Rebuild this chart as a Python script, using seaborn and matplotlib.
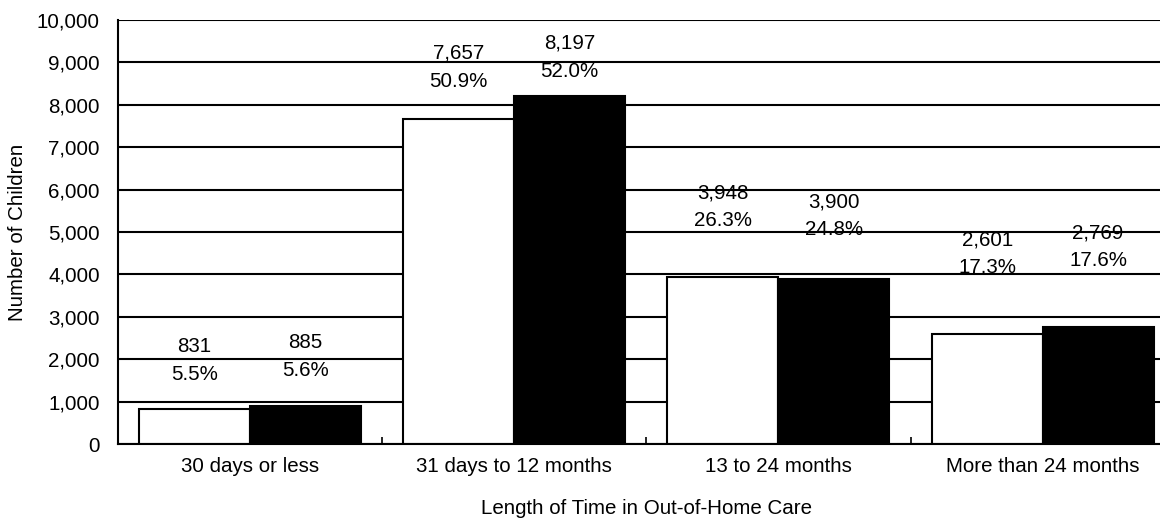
import numpy as np
import pandas as pd
import matplotlib
matplotlib.use("Agg")
import matplotlib.pyplot as plt
import seaborn as sns

sns.set_style('white')
plt.rcParams['font.family'] = ['Liberation Sans', 'DejaVu Sans']
plt.rcParams['text.color'] = 'black'
plt.rcParams['axes.labelcolor'] = 'black'
plt.rcParams['xtick.color'] = 'black'
plt.rcParams['ytick.color'] = 'black'

# values
categories = ["30 days or less", "31 days to 12 months", "13 to 24 months", "More than 24 months"]
series = ["Earlier year", "Later year"]
earlier_counts = [831, 7657, 3948, 2601]
later_counts = [885, 8197, 3900, 2769]
earlier_pct = [5.5, 50.9, 26.3, 17.3]
later_pct = [5.6, 52.0, 24.8, 17.6]

df = pd.DataFrame({
    "category": categories * 2,
    "series": [series[0]] * 4 + [series[1]] * 4,
    "children": earlier_counts + later_counts,
    "pct": earlier_pct + later_pct,
})

# how far each label pair sits above its bar (pixels), as placed in the original
label_pad = [[62, 66, 84, 94], [64, 53, 77, 94]]

FS = 14.8
fig = plt.figure(figsize=(11.6, 5.19), dpi=100)
ax = fig.add_axes([0.1017, 0.1445, 0.911, 0.817])

sns.barplot(data=df, x="category", y="children", hue="series", order=categories,
            hue_order=series, palette=["white", "black"], edgecolor="black",
            linewidth=1.5, width=0.84, gap=0, saturation=1, legend=False, ax=ax, zorder=2)

ax.set_xlim(-0.5, 3.5)
ax.set_ylim(0, 10000)
ax.set_yticks(np.arange(0, 10001, 1000))
ax.set_yticklabels([f"{v:,}" for v in range(0, 10001, 1000)], fontsize=FS)
ax.tick_params(axis='y', length=0, pad=13)
ax.tick_params(axis='x', which='major', length=0, pad=9, labelsize=FS)
ax.set_xticks(np.arange(0.5, 3.5, 1), minor=True)
ax.tick_params(axis='x', which='minor', bottom=True, direction='in', length=5, width=1.2, color='black')

ax.set_axisbelow(True)
ax.yaxis.grid(True, color='black', linewidth=1.5)
ax.xaxis.grid(False)

for side in ['top', 'right']:
    ax.spines[side].set_visible(False)
for side in ['left', 'bottom']:
    ax.spines[side].set_color('black')
    ax.spines[side].set_linewidth(1.5)

ax.set_ylabel("Number of Children", fontsize=FS, labelpad=7)
ax.set_xlabel("Length of Time in Out-of-Home Care", fontsize=FS, labelpad=17)

counts = [earlier_counts, later_counts]
pcts = [earlier_pct, later_pct]
for s, cont in enumerate(ax.containers):
    for i, bar in enumerate(cont):
        x = bar.get_x() + bar.get_width() / 2
        y = bar.get_height()
        pad = label_pad[s][i]
        ax.annotate(f"{counts[s][i]:,}", (x, y), xytext=(0, pad), textcoords='offset pixels',
                    ha='center', va='center', fontsize=FS, zorder=0.3)
        ax.annotate(f"{pcts[s][i]:.1f}%", (x, y), xytext=(0, pad - 28), textcoords='offset pixels',
                    ha='center', va='center', fontsize=FS, zorder=0.3)

fig.savefig("out.png", dpi=100)
